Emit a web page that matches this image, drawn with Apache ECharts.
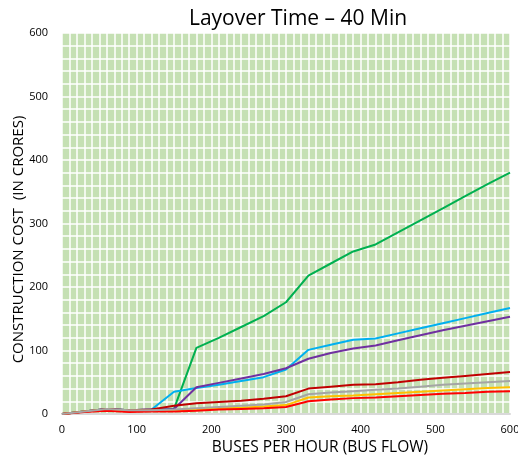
<!DOCTYPE html>
<html><head><meta charset="utf-8">
<script src="https://cdn.jsdelivr.net/npm/echarts@6/dist/echarts.min.js"></script>
<style>html,body{margin:0;padding:0;background:#fff}#c{width:518px;height:456px}</style>
</head><body><div id="c"></div>
<script>
const busFlow = [0,30,60,90,120,150,180,210,240,270,300,330,360,390,420,450,480,510,540,570,600];
const greenVals  = [0,4,8,6,6,8,104,120,137,154,176,218,237,256,267,286,305,324,343,362,380];
const blueVals   = [0,4,8,6,7,35,41,46,52,58,70,101,109,117,119,127,135,143,151,159,167];
const purpleVals = [0,4,8,6,7,8,42,49,56,63,72,87,96,103,108,116,124,132,139,146,153];
const darkRedVals= [0,4,8,6,7,13,17,19,21,24,28,40,43,46,47,50,54,57,60,63,66];
const yellowVals = [0,4,7,5,5,6,7,9,10,12,14,26,28,29,31,33,35,37,39,41,42];
const redVals    = [0,3,5,3,4,4,5,7,8,9,11,20,23,25,26,28,30,32,33,35,36];
const grayVals   = [0,4,8,6,6,7,9,11,13,15,19,31,34,36,38,40,43,46,48,50,52];

const seriesDefs = [
  {name:'Green', vals:greenVals, color:'#00B050'},
  {name:'Blue', vals:blueVals, color:'#00B0F0'},
  {name:'Purple', vals:purpleVals, color:'#7030A0'},
  {name:'DarkRed', vals:darkRedVals, color:'#C00000'},
  {name:'Yellow', vals:yellowVals, color:'#FFC000'},
  {name:'Red', vals:redVals, color:'#FF0000'},
  {name:'Gray', vals:grayVals, color:'#A5A5A5'}
];

const chart = echarts.init(document.getElementById('c'));
const font = 'Open Sans, Liberation Sans, sans-serif';
chart.setOption({
  animation:false,
  title:{text:'Layover Time – 40 Min', left:293, textAlign:'center', top:4,
    textStyle:{fontFamily:font, fontSize:21, fontWeight:'normal', color:'#000'}},
  grid:{left:62, right:8, top:33, bottom:42, show:true, backgroundColor:'#C5E0B3', borderWidth:0,
    containLabel:false, outerBoundsMode:'none'},
  xAxis:{type:'value', min:0, max:600, interval:100,
    name:'BUSES PER HOUR (BUS FLOW)', nameLocation:'middle', nameGap:24,
    nameTextStyle:{fontFamily:font, fontSize:15.5, color:'#000', padding:[0,0,0,68]},
    axisLine:{show:true, onZero:false, lineStyle:{color:'#D9D9D9', width:2}},
    axisTick:{show:false},
    axisLabel:{fontFamily:font, fontSize:11, color:'#000', margin:10},
    splitLine:{show:true, lineStyle:{color:'#FFFFFF', width:1.5}},
    minorTick:{show:false, splitNumber:10},
    minorSplitLine:{show:true, lineStyle:{color:'#FFFFFF', width:1.5}}
  },
  yAxis:{type:'value', min:0, max:600, interval:100,
    name:'CONSTRUCTION COST  (IN CRORES)', nameLocation:'middle', nameGap:36, nameMoveOverlap:false,
    nameTextStyle:{fontFamily:font, fontSize:15, color:'#000', padding:[0,32,0,0]},
    axisLine:{show:false}, axisTick:{show:false},
    axisLabel:{fontFamily:font, fontSize:11, color:'#000', margin:14},
    splitLine:{show:true, lineStyle:{color:'#FFFFFF', width:1.5}},
    minorTick:{show:false, splitNumber:5},
    minorSplitLine:{show:true, lineStyle:{color:'#FFFFFF', width:1.5}}
  },
  series: seriesDefs.map(s=>({
    name:s.name, type:'line', showSymbol:false, symbol:'none',
    data: busFlow.map((x,i)=>[x, s.vals[i]]),
    lineStyle:{color:s.color, width:2}, itemStyle:{color:s.color}
  }))
});
</script></body></html>
